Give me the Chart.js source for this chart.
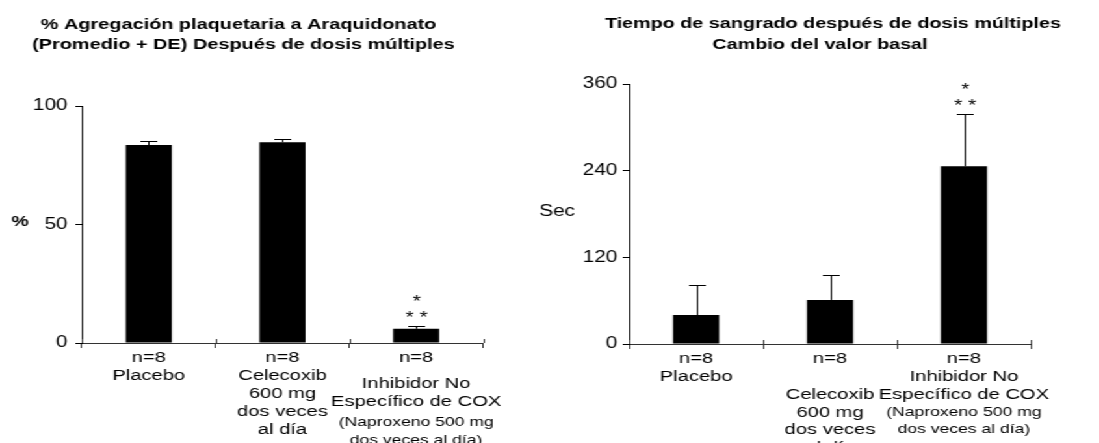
<!DOCTYPE html>
<html>
<head>
<meta charset="utf-8">
<script src="https://cdn.jsdelivr.net/npm/chart.js@4"></script>
<style>
  html, body { margin: 0; padding: 0; background: #fff; overflow: hidden; }
  /* the original slide is stretched sideways, so the charts are too */
  #wrap { position: absolute; left: 0; top: 0; width: 846px; height: 443px; transform: scaleX(1.3); transform-origin: 0 0; }
  canvas { position: absolute; top: 0; }
  #left { left: 0; }
  #right { left: 405px; }
</style>
</head>
<body>
<div id="wrap">
  <canvas id="left" width="405" height="443"></canvas>
  <canvas id="right" width="441" height="443"></canvas>
</div>
<script>
const FONT = "Arial, 'Liberation Sans', sans-serif";

// data
let aggTitle = ["% Agregación plaquetaria a Araquidonato", "(Promedio + DE) Después de dosis múltiples"];
let bleedTitle = ["Tiempo de sangrado después de dosis múltiples", "Cambio del valor basal"];
let groups = [
  ["n=8", "Placebo"],
  ["n=8", "Celecoxib", "600 mg", "dos veces", "al día"],
  ["n=8", "Inhibidor No", "Específico de COX"],
];
let groupNotes = [[], [], ["(Naproxeno 500 mg", "dos veces al día)"]];
let aggMean = [83.5, 84.7, 6.0];
let aggSD = [1.6, 1.5, 1.0];
let bleedMean = [40, 61, 246];
let bleedSD = [42, 34, 72];
let stars = [[], [], ["*", "* *"]];
let aggTicks = [0, 50, 100];
let bleedTicks = [0, 120, 240, 360];

Chart.defaults.font.family = FONT;
Chart.defaults.color = "#000";

// upward SD whiskers and the significance stars
const errorBars = {
  id: "errorBars",
  afterDatasetsDraw(chart, args, o) {
    const ctx = chart.ctx;
    const y = chart.scales.y;
    const vals = chart.data.datasets[0].data;
    ctx.save();
    ctx.strokeStyle = "#000";
    ctx.lineWidth = 1;
    chart.getDatasetMeta(0).data.forEach((bar, i) => {
      const bx = Math.round(bar.x) + 0.5;
      const top = Math.round(y.getPixelForValue(vals[i] + o.sd[i])) + 0.5;
      ctx.beginPath();
      ctx.moveTo(bx, bar.y);
      ctx.lineTo(bx, top);
      ctx.moveTo(bx - o.cap / 2, top);
      ctx.lineTo(bx + o.cap / 2, top);
      ctx.stroke();
      ctx.fillStyle = "#000";
      ctx.textAlign = "center";
      ctx.textBaseline = "alphabetic";
      ctx.font = "16px " + FONT;
      o.stars[i].forEach((t, k) => ctx.fillText(t, bx, top + o.starOffsets[k]));
    });
    ctx.restore();
  },
};

// titles, y axis name, the multi-line group labels, and the inner half of the x ticks
const panelText = {
  id: "panelText",
  afterDraw(chart, args, o) {
    const ctx = chart.ctx;
    const x = chart.scales.x;
    const area = chart.chartArea;
    ctx.save();
    ctx.strokeStyle = "#333";
    ctx.lineWidth = 1;
    ctx.beginPath();
    for (let i = 0; i <= chart.data.labels.length; i++) {
      const px = Math.round(x.getPixelForValue(i - 0.5)) + 0.5;
      ctx.moveTo(px, area.bottom);
      ctx.lineTo(px, area.bottom - 4);
    }
    ctx.stroke();
    ctx.fillStyle = "#000";
    ctx.textAlign = "center";
    ctx.textBaseline = "middle";
    ctx.font = "bold " + o.titleSize + "px " + FONT;
    o.title.forEach((t, i) => ctx.fillText(t, o.titleX[i], o.titleY + i * o.titleStep));
    ctx.font = o.yNameFont;
    ctx.fillText(o.yName, o.yNameX, o.yNameY);
    chart.data.labels.forEach((lines, i) => {
      const cx = x.getPixelForValue(i);
      let yy = area.bottom + o.firstLine;
      ctx.font = "15.5px " + FONT;
      lines.forEach((t, j) => {
        if (j == 1) yy += o.gaps[i];
        else if (j > 1) yy += o.lineStep;
        ctx.fillText(t, cx, yy);
      });
      ctx.font = "13.5px " + FONT;
      o.notes[i].forEach((t, j) => {
        yy += j == 0 ? o.noteGap : o.noteStep;
        ctx.fillText(t, cx, yy);
      });
    });
    ctx.restore();
  },
};

function barChart(id, values, sd, ticks, layout, text) {
  return new Chart(document.getElementById(id).getContext("2d"), {
    type: "bar",
    data: {
      labels: groups,
      datasets: [
        {
          data: values,
          backgroundColor: "#000",
          borderWidth: 0,
          categoryPercentage: 0.345,
          barPercentage: 1,
        },
      ],
    },
    options: {
      responsive: false,
      animation: false,
      events: [],
      layout: { padding: layout.padding },
      scales: {
        x: {
          offset: true,
          ticks: { display: false },
          grid: { offset: true, drawOnChartArea: false, tickLength: 5, color: "#333" },
          border: { color: "#333", width: 1 },
          afterFit: (s) => { s.height = layout.xHeight; },
        },
        y: {
          min: ticks[0],
          max: ticks[ticks.length - 1],
          ticks: {
            stepSize: ticks[1] - ticks[0],
            padding: layout.tickPad,
            color: "#000",
            font: { size: 16 },
          },
          grid: { drawOnChartArea: false, tickLength: 5, color: "#000" },
          border: { color: "#000", width: 1 },
          afterFit: (s) => { s.width = layout.yWidth; },
        },
      },
      plugins: {
        legend: { display: false },
        tooltip: { enabled: false },
        errorBars: { sd: sd, stars: stars, cap: 13, starOffsets: [-20, -4] },
        panelText: text,
      },
    },
    plugins: [errorBars, panelText],
  });
}

barChart("left", aggMean, aggSD, aggTicks,
  { padding: { top: 106, right: 33.5, left: 0, bottom: 0 }, xHeight: 100, yWidth: 63, tickPad: 6 },
  {
    title: aggTitle, titleSize: 15.3, titleX: [183.5, 187.3], titleY: 25, titleStep: 20,
    yName: "%", yNameFont: "bold 15px " + FONT, yNameX: 15.5, yNameY: 222,
    firstLine: 15, gaps: [18, 18, 26], lineStep: 18, notes: groupNotes, noteGap: 20, noteStep: 18,
  });

barChart("right", bleedMean, bleedSD, bleedTicks,
  { padding: { top: 84, right: 53, left: 0, bottom: 0 }, xHeight: 99, yWidth: 79, tickPad: 4 },
  {
    title: bleedTitle, titleSize: 15.2, titleX: [235.8, 225.8], titleY: 24, titleStep: 21,
    yName: "Sec", yNameFont: "16px " + FONT, yNameX: 23.5, yNameY: 212,
    firstLine: 15, gaps: [18, 36, 18], lineStep: 17.5, notes: groupNotes, noteGap: 18, noteStep: 17,
  });
</script>
</body>
</html>
